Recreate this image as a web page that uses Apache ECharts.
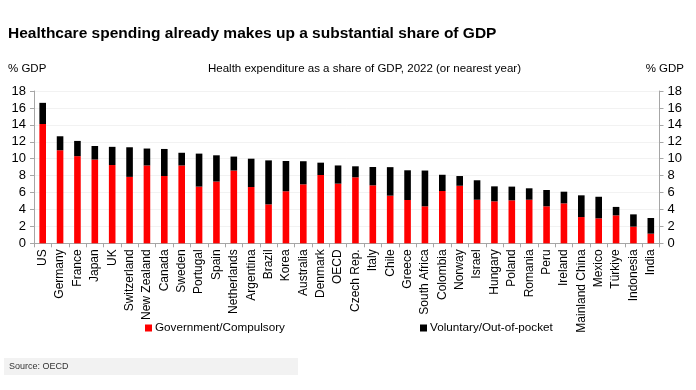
<!DOCTYPE html>
<html><head><meta charset="utf-8">
<script src="https://cdn.jsdelivr.net/npm/echarts@6/dist/echarts.min.js"></script>
<style>html,body{margin:0;padding:0;background:#fff}#c{width:696px;height:390px}</style>
</head><body><div id="c"></div>
<script>
const categories = ['US','Germany','France','Japan','UK','Switzerland','New Zealand','Canada','Sweden','Portugal','Spain','Netherlands','Argentina','Brazil','Korea','Australia','Denmark','OECD','Czech Rep.','Italy','Chile','Greece','South Africa','Colombia','Norway','Israel','Hungary','Poland','Romania','Peru','Ireland','Mainland China','Mexico','Türkiye','Indonesia','India'];
const government = [14.1,11.0,10.3,9.9,9.25,7.85,9.2,7.95,9.2,6.7,7.3,8.6,6.65,4.6,6.15,6.97,8.07,7.05,7.8,6.85,5.63,5.12,4.37,6.18,6.8,5.15,4.96,5.08,5.15,4.37,4.72,3.1,2.95,3.3,1.97,1.14];
const totals = [16.6,12.65,12.1,11.5,11.4,11.35,11.2,11.15,10.7,10.6,10.4,10.25,10.0,9.8,9.73,9.7,9.53,9.2,9.1,9.02,9.0,8.63,8.6,8.1,7.95,7.45,6.73,6.7,6.5,6.3,6.1,5.67,5.5,4.3,3.42,2.99];
const voluntary = totals.map((t,i)=>+(t-government[i]).toFixed(2));
const yTicks = [0,2,4,6,8,10,12,14,16,18];

function hasFont(name){
  const c=document.createElement('canvas').getContext('2d');
  const s='Switzerland Government 2022';
  c.font='40px monospace'; const a=c.measureText(s).width;
  c.font='40px "'+name+'", monospace'; const b=c.measureText(s).width;
  return Math.abs(a-b)>0.5;
}
const narrowOK = hasFont('Liberation Sans Narrow');
const NF = narrowOK ? '"Liberation Sans Narrow", "Liberation Sans", Arial, sans-serif' : '"Liberation Sans", Arial, sans-serif';
const k = narrowOK ? 1.2 : 1;
const RF = '"Liberation Sans", Arial, sans-serif';

const chart = echarts.init(document.getElementById('c'), null, {renderer:'canvas'});
const yAxisBase = {
  type:'value', min:0, max:18, interval:2,
  axisLine:{show:true, lineStyle:{color:'#a6a6a6', width:1}},
  axisTick:{show:true, length:4, lineStyle:{color:'#a6a6a6'}},
  axisLabel:{color:'#000', fontSize:13, fontFamily:RF, margin:8},
  splitLine:{show:false}
};
chart.setOption({
  animation:false,
  backgroundColor:'#fff',
  textStyle:{fontFamily:RF},
  title:[
    {text:'Healthcare spending already makes up a substantial share of GDP', left:8, top:26, padding:0, textStyle:{fontSize:15.5, fontWeight:'bold', color:'#000', fontFamily:RF}},
    {text:'% GDP', left:8, top:63, padding:0, textStyle:{fontSize:11.5*k, fontWeight:'normal', color:'#000', fontFamily:NF}},
    {text:'Health expenditure as a share of GDP, 2022 (or nearest year)', left:208, top:63, padding:0, textStyle:{fontSize:11.5*k, fontWeight:'normal', color:'#000', fontFamily:NF}},
    {text:'% GDP', right:12, top:63, padding:0, textStyle:{fontSize:11.5*k, fontWeight:'normal', color:'#000', fontFamily:NF}}
  ],
  legend:[
    {data:['Government/Compulsory'], left:145, top:322, padding:0, icon:'rect', itemWidth:7, itemHeight:7, itemGap:4, textStyle:{fontSize:11.7*k, color:'#000', fontFamily:NF, padding:[0,0,0,-2]}},
    {data:['Voluntary/Out-of-pocket'], left:420, top:322, padding:0, icon:'rect', itemWidth:7, itemHeight:7, itemGap:4, textStyle:{fontSize:11.7*k, color:'#000', fontFamily:NF, padding:[0,0,0,-2]}}
  ],
  grid:{left:34, right:36.5, top:91, bottom:146.7, containLabel:false},
  xAxis:{
    type:'category', data:categories,
    axisLine:{lineStyle:{color:'#a6a6a6'}},
    axisTick:{show:true, length:4, alignWithLabel:false, lineStyle:{color:'#a6a6a6'}},
    axisLabel:{rotate:90, interval:0, color:'#000', fontSize:12*k, fontFamily:NF, margin:6}
  },
  yAxis:[
    Object.assign({}, yAxisBase, {position:'left', splitLine:{show:true, lineStyle:{color:'#f2f2f2', width:1}}}),
    Object.assign({}, yAxisBase, {position:'right'})
  ],
  series:[
    {name:'Government/Compulsory', type:'bar', stack:'t', data:government, itemStyle:{color:'#ff0000'}, barWidth:'38%'},
    {name:'Voluntary/Out-of-pocket', type:'bar', stack:'t', data:voluntary, itemStyle:{color:'#000000'}, barWidth:'38%'}
  ],
  graphic:[
    {type:'rect', shape:{x:4, y:358, width:294, height:17}, style:{fill:'#f2f2f2'}, silent:true},
    {type:'text', left:9, top:362, style:{text:'Source: OECD', fontSize:9, fill:'#333', fontFamily:RF}}
  ]
});
</script></body></html>
